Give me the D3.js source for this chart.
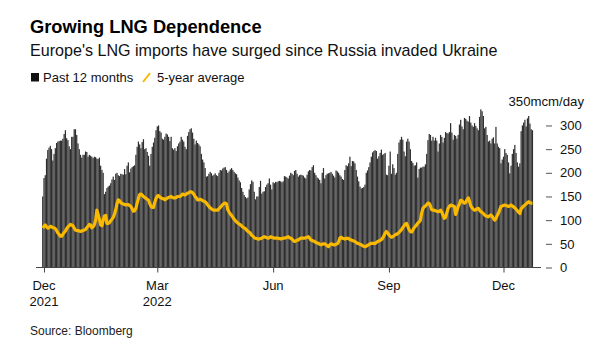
<!DOCTYPE html>
<html>
<head>
<meta charset="utf-8">
<script src="https://cdn.jsdelivr.net/npm/d3@7"></script>
<style>
  html, body { margin: 0; padding: 0; background: #fff; }
  svg { display: block; font-family: "Liberation Sans", Arial, sans-serif; }
</style>
</head>
<body>
<svg id="chart" width="611" height="356"></svg>
<script>
// ---- Data (daily, starting 2021-11-30) ----
const startDate = "2021-11-30";
const imports = [
150,189,195,230,248,253,257,250,226,240,252,263,266,267,268,268,272,282,290,273,
269,256,250,276,276,292,292,280,262,250,238,232,238,238,245,244,234,238,236,234,
231,234,233,230,229,232,215,206,200,155,160,168,171,173,178,186,192,185,198,200,
195,193,198,197,196,208,197,215,222,201,209,212,214,216,238,255,266,260,252,265,
271,250,252,244,236,215,240,255,264,274,290,298,300,288,285,272,270,276,283,281,
276,267,276,252,249,252,246,256,262,266,276,270,266,255,250,278,286,292,294,285,
272,260,268,263,260,256,240,228,222,210,192,193,198,202,199,194,196,199,195,193,
200,206,205,209,211,212,206,200,203,207,210,206,202,199,197,190,184,180,168,160,
153,149,146,148,165,176,184,181,160,144,150,150,170,183,156,160,161,170,175,178,
188,175,165,180,178,181,180,182,183,182,180,182,193,192,190,188,194,200,198,195,
204,206,198,192,195,196,195,194,190,188,196,203,206,205,212,216,200,195,190,188,
185,178,200,210,188,195,198,199,200,202,198,194,190,205,203,200,195,192,187,185,
206,216,214,220,234,214,225,224,220,206,192,182,171,167,168,170,175,200,205,212,
222,234,243,246,248,246,230,235,242,249,238,240,242,196,195,215,245,198,218,210,
196,200,240,264,270,276,270,245,235,266,272,266,250,225,221,215,216,222,190,208,
211,211,213,213,218,240,269,282,280,268,276,268,274,268,245,262,280,276,264,274,
286,284,283,286,305,285,270,280,278,272,280,302,312,298,292,316,314,310,308,320,
306,300,297,305,299,294,290,318,334,330,320,294,297,280,266,268,262,272,275,262,
297,262,255,252,220,228,234,250,242,238,222,199,215,240,250,259,242,222,213,220,
288,300,306,312,298,315,320,304,292,290
];
const avg5y = [
83,87,90,86,83,84,87,86,84,84,82,78,73,70,66,66,70,74,77,82,
86,88,91,90,88,83,79,78,78,77,76,77,78,79,80,84,87,91,90,84,
86,90,100,121,112,102,90,88,100,109,110,93,93,95,99,102,106,113,122,135,
143,141,137,135,134,133,132,133,133,131,129,124,119,120,125,136,146,154,155,153,
150,148,146,144,142,135,129,127,127,138,146,151,152,149,147,146,145,143,145,147,
148,149,150,148,147,147,148,150,150,150,152,155,154,153,155,157,158,160,160,158,
155,150,147,143,143,144,143,141,140,139,136,132,129,126,124,122,121,121,121,121,
124,127,130,133,135,136,134,122,117,113,110,106,102,99,96,94,92,90,88,85,
84,82,79,76,75,72,68,66,63,62,61,60,60,61,62,64,65,64,63,62,
63,65,64,63,62,62,62,62,61,60,61,62,62,63,64,65,63,62,60,57,
55,56,58,58,60,62,62,62,62,63,64,65,62,58,57,56,55,53,52,51,
49,48,49,50,50,48,46,44,48,50,49,48,48,49,50,54,62,64,62,61,
60,61,62,61,59,58,57,56,55,53,51,50,49,48,46,45,44,45,47,48,
50,51,51,51,51,53,55,56,57,59,62,67,73,76,73,69,66,64,65,67,
69,70,72,74,77,80,84,88,92,93,87,80,76,75,79,84,87,90,94,96,
100,115,125,128,130,133,136,135,130,122,121,121,120,119,118,119,121,117,110,104,
106,116,125,129,132,131,130,129,112,120,129,134,142,141,138,136,138,143,147,140,
130,126,123,121,122,124,125,121,118,116,114,111,109,108,107,109,111,108,104,100,
103,110,115,122,129,130,131,132,131,130,129,130,132,130,128,126,123,120,117,114,
124,127,130,132,134,137,139,137,136,136
];
const xTickDates = ["2021-12-01", "2022-03-01", "2022-06-01", "2022-09-01", "2022-12-01"];
const xTickLabels = [["Dec", "2021"], ["Mar", "2022"], ["Jun"], ["Sep"], ["Dec"]];
const yTicks = [0, 50, 100, 150, 200, 250, 300];
const yTopLabel = "350mcm/day";
const titleText = "Growing LNG Dependence";
const subtitleText = "Europe's LNG imports have surged since Russia invaded Ukraine";
const legendLabels = ["Past 12 months", "5-year average"];
const sourceText = "Source: Bloomberg";

// ---- Setup ----
const svg = d3.select("#chart");
const parse = d3.utcParse("%Y-%m-%d");
const start = parse(startDate);
const dates = imports.map((_, i) => d3.utcDay.offset(start, i));

const x = d3.scaleUtc()
  .domain([parse("2021-12-01"), parse("2022-12-01")])
  .range([44, 503.5]);
const y = d3.scaleLinear().domain([0, 350]).range([267.5, 101.8]);

const step = x(parse("2021-12-02")) - x(parse("2021-12-01"));
const barW = step * 0.97;

const barColor = "#2f2f2f";
const lineColor = "#f8b900";

// ---- Titles ----
svg.append("text").attr("x", 30).attr("y", 33)
  .attr("font-size", 18.3).attr("font-weight", "bold").attr("fill", "#000")
  .text(titleText);
svg.append("text").attr("x", 30).attr("y", 56)
  .attr("font-size", 16.1).attr("fill", "#111")
  .text(subtitleText);

// ---- Legend ----
const lg = svg.append("g");
lg.append("rect").attr("x", 31).attr("y", 73).attr("width", 8).attr("height", 8.5).attr("fill", "#111");
lg.append("text").attr("x", 43).attr("y", 82).attr("font-size", 13).attr("fill", "#111").text(legendLabels[0]);
lg.append("line").attr("x1", 143).attr("y1", 82).attr("x2", 150).attr("y2", 73)
  .attr("stroke", lineColor).attr("stroke-width", 2);
lg.append("text").attr("x", 157).attr("y", 82).attr("font-size", 13).attr("fill", "#111").text(legendLabels[1]);

// ---- Bars ----
svg.append("g").selectAll("rect").data(imports).join("rect")
  .attr("x", (d, i) => x(dates[i]) - barW / 2)
  .attr("width", barW)
  .attr("y", d => y(d))
  .attr("height", d => y(0) - y(d))
  .attr("fill", barColor);

// ---- Line ----
const line = d3.line()
  .x((d, i) => x(dates[i]))
  .y(d => y(d))
  .curve(d3.curveLinear);
svg.append("path").datum(avg5y)
  .attr("d", line)
  .attr("fill", "none")
  .attr("stroke", lineColor)
  .attr("stroke-width", 3.2)
  .attr("stroke-linejoin", "round");

// ---- X axis ----
const xAxisG = svg.append("g").attr("transform", `translate(0,${y(0)})`);
xAxisG.append("line").attr("x1", 36).attr("x2", 541).attr("y1", 0).attr("y2", 0)
  .attr("stroke", "#444").attr("stroke-width", 1);
const xAxis = d3.axisBottom(x)
  .tickValues(xTickDates.map(parse))
  .tickSize(5)
  .tickFormat("");
xAxisG.call(xAxis);
xAxisG.select(".domain").remove();
xAxisG.selectAll(".tick line").attr("stroke", "#444");
xTickDates.forEach((ds, k) => {
  const t = svg.append("text")
    .attr("x", x(parse(ds)))
    .attr("y", 290)
    .attr("text-anchor", "middle")
    .attr("font-size", 13)
    .attr("fill", "#111");
  xTickLabels[k].forEach((s, j) => {
    t.append("tspan").attr("x", x(parse(ds))).attr("dy", j === 0 ? 0 : 16).text(s);
  });
});

// ---- Y axis ----
const yAxisG = svg.append("g").attr("transform", "translate(546,0)");
yAxisG.call(d3.axisRight(y).tickValues(yTicks).tickSize(6).tickPadding(8));
yAxisG.select(".domain").remove();
yAxisG.selectAll(".tick line").attr("stroke", "#555");
yAxisG.selectAll(".tick text").attr("font-size", 13).attr("fill", "#111")
  .attr("font-family", "Liberation Sans, Arial, sans-serif");
svg.append("text").attr("x", 584).attr("y", y(350) + 4.5)
  .attr("text-anchor", "end").attr("font-size", 13.2).attr("fill", "#111")
  .text(yTopLabel);

// ---- Source ----
svg.append("text").attr("x", 30).attr("y", 335).attr("font-size", 12).attr("fill", "#222")
  .text(sourceText);
</script>
</body>
</html>
